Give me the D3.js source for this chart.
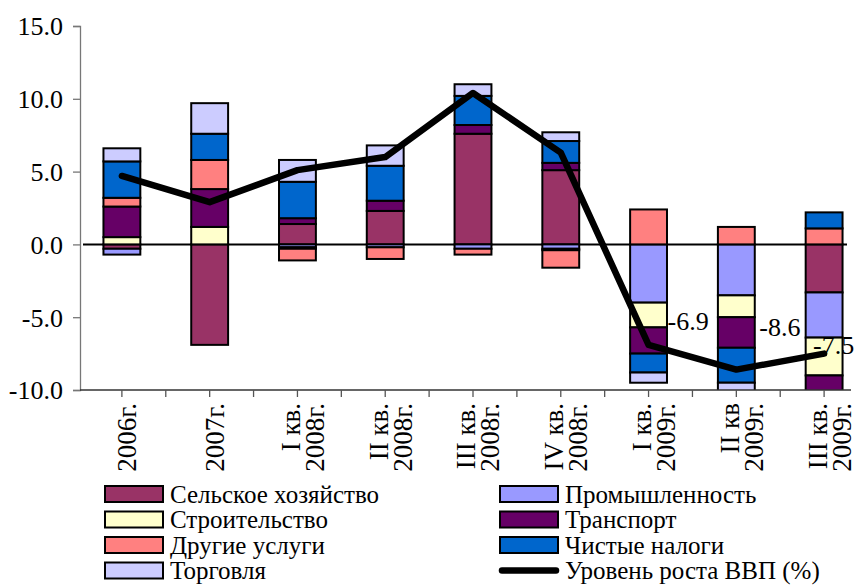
<!DOCTYPE html>
<html><head><meta charset="utf-8">
<script src="https://cdn.jsdelivr.net/npm/d3@7"></script>
<style>
html,body{margin:0;padding:0;background:#fff;}
svg text{font-family:"Liberation Serif","Times New Roman",serif !important;fill:#000;}
</style></head>
<body>
<svg id="chart" width="861" height="586"></svg>
<script>
// ---- data ----
const categories = ["2006г.","2007г.","I кв. 2008г.","II кв. 2008г.","III кв. 2008г.","IV кв. 2008г.","I кв. 2009г.","II кв 2009г.","III кв. 2009г."];
const seriesNames = ["Сельское хозяйство","Промышленность","Строительство","Транспорт","Другие услуги","Чистые налоги","Торговля"];
const agriculture  = [-0.3,-6.9, 1.4, 2.3, 7.6, 5.1, 0.0, 0.0,-3.3];
const industry     = [-0.4, 0.0,-0.2,-0.2,-0.3,-0.3,-4.0,-3.5,-3.1];
const construction = [ 0.5, 1.2,-0.1, 0.0, 0.0,-0.1,-1.7,-1.5,-2.6];
const transport    = [ 2.1, 2.6, 0.4, 0.7, 0.6, 0.5,-1.8,-2.1,-1.2];
const otherServices= [ 0.6, 2.0,-0.8,-0.8,-0.4,-1.2, 2.4, 1.2, 1.1];
const netTaxes     = [ 2.5, 1.8, 2.5, 2.4, 2.0, 1.5,-1.3,-2.4, 1.1];
const trade        = [ 0.9, 2.1, 1.5, 1.4, 0.8, 0.6,-0.7,-0.6, 0.0];
const gdpGrowth    = [ 4.7, 2.9, 5.1, 6.0,10.4, 6.3,-6.9,-8.6,-7.5];
const gdpLabels    = [null,null,null,null,null,null,"-6.9","-8.6","-7.5"];
const lineName = "Уровень роста ВВП (%)";
const yTicks = [-10,-5,0,5,10,15];
const colors = ["#993366","#9999FF","#FFFFCC","#660066","#FF8080","#0066CC","#CCCCFF"];

// ---- build ----
const FONT = "'Liberation Serif','Times New Roman',serif";
const seriesValues = [agriculture,industry,construction,transport,otherServices,netTaxes,trade];
const table = categories.map((c,i)=>{const o={cat:c}; seriesNames.forEach((s,j)=>o[s]=seriesValues[j][i]); return o;});
const stack = d3.stack().keys(seriesNames).offset(d3.stackOffsetDiverging)(table);

const svg = d3.select("#chart");
const plot = {left:80, right:868, top:26, bottom:390};
const x = d3.scaleBand().domain(categories).range([78,868]).paddingInner(0.58).paddingOuter(0.29);
const y = d3.scaleLinear().domain([-10,15]).range([plot.bottom, plot.top]);

svg.append("defs").append("clipPath").attr("id","clip")
  .append("rect").attr("x",plot.left).attr("y",plot.top).attr("width",800).attr("height",plot.bottom-plot.top);

// zero line
svg.append("line").attr("x1",83).attr("x2",847).attr("y1",y(0)).attr("y2",y(0))
  .attr("stroke","#000").attr("stroke-width",2);

// bars
const g = svg.append("g").attr("clip-path","url(#clip)");
stack.forEach((s,j)=>{
  g.selectAll(null).data(s.filter(d=>d[1]-d[0]!==0)).enter().append("rect")
    .attr("x",d=>x(d.data.cat))
    .attr("width",x.bandwidth())
    .attr("y",d=>y(Math.max(d[0],d[1])))
    .attr("height",d=>Math.abs(y(d[0])-y(d[1])))
    .attr("fill",colors[j]).attr("stroke","#000").attr("stroke-width",2);
});

// axes
const yAxis = d3.axisLeft(y).tickValues(yTicks).tickSize(7).tickFormat(d=>d.toFixed(1));
const ya = svg.append("g").attr("transform",`translate(${plot.left},0)`).call(yAxis);
ya.attr("font-family",FONT);
ya.select(".domain").attr("stroke","#777").attr("stroke-width",1.3);
ya.selectAll(".tick line").attr("stroke","#777").attr("stroke-width",1.3);
ya.selectAll(".tick text").attr("font-family",FONT).attr("font-size",26).attr("x",-17).attr("dy","0.34em");

// x axis line and ticks
svg.append("line").attr("x1",plot.left).attr("x2",851).attr("y1",plot.bottom).attr("y2",plot.bottom)
  .attr("stroke","#333").attr("stroke-width",1.3);
const step = x.step();
const tickPos = [];
categories.forEach(c=>{const cx=x(c)+x.bandwidth()/2; tickPos.push(cx-step/2, cx);});
svg.selectAll(null).data(tickPos.filter(t=>t>plot.left+5 && t<851)).enter().append("line")
  .attr("x1",d=>d).attr("x2",d=>d).attr("y1",plot.bottom).attr("y2",plot.bottom+7)
  .attr("stroke","#555").attr("stroke-width",1.3);

// x labels (rotated)
categories.forEach(c=>{
  const cx = x(c)+x.bandwidth()/2;
  const idx = c.lastIndexOf(" ");
  const lines = idx>0 ? [c.slice(0,idx), c.slice(idx+1)] : [c];
  const t = svg.append("text").attr("font-family",FONT).attr("font-size",27).attr("text-anchor","end")
    .attr("transform",`translate(${cx+5},403) rotate(-90)`);
  lines.forEach((ln,i)=>{
    const off = lines.length===1 ? 0 : (i===0 ? -12 : 12);
    t.append("tspan").attr("x",0).attr("y",off).attr("dy","0.35em").text(ln);
  });
});

// GDP line
const line = d3.line().x((d,i)=>x(categories[i])+x.bandwidth()/2).y(d=>y(d));
svg.append("path").datum(gdpGrowth).attr("d",line).attr("fill","none")
  .attr("stroke","#000").attr("stroke-width",6.5).attr("stroke-linejoin","round").attr("stroke-linecap","round");

// GDP labels
const labelOffsets = [[0,0],[0,0],[0,0],[0,0],[0,0],[0,0],[19,-24],[23,-43],[-11,-9]];
gdpGrowth.forEach((v,i)=>{
  if(!gdpLabels[i]) return;
  svg.append("text").attr("font-family",FONT).attr("font-size",26)
    .attr("x",x(categories[i])+x.bandwidth()/2+labelOffsets[i][0])
    .attr("y",y(v)+labelOffsets[i][1]).attr("dy","0.35em").text(gdpLabels[i]);
});

// legend
const legendItems = [];
seriesNames.forEach((s,j)=>legendItems.push({name:s,color:colors[j],type:"rect"}));
legendItems.push({name:lineName,type:"line"});
const lg = svg.append("g");
legendItems.forEach((it,k)=>{
  const col = k%2, row = Math.floor(k/2);
  const lx = col===0 ? 105 : 500, ly = 494 + row*25.5;
  if(it.type==="rect"){
    lg.append("rect").attr("x",lx).attr("y",ly-8).attr("width",58).attr("height",16)
      .attr("fill",it.color).attr("stroke","#000").attr("stroke-width",2);
  } else {
    lg.append("line").attr("x1",lx+2).attr("x2",lx+56).attr("y1",ly).attr("y2",ly)
      .attr("stroke","#000").attr("stroke-width",6.5).attr("stroke-linecap","round");
  }
  lg.append("text").attr("font-family",FONT).attr("x",lx+65).attr("y",ly).attr("dy","0.35em").attr("font-size",25).text(it.name);
});
</script>
</body></html>
